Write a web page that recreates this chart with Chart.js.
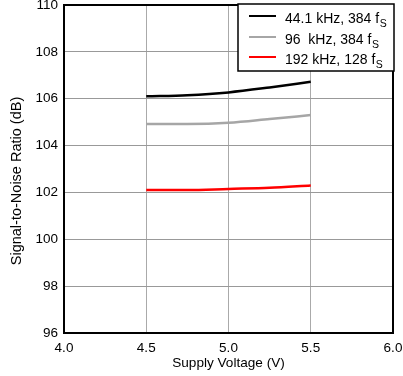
<!DOCTYPE html>
<html>
<head>
<meta charset="utf-8">
<script src="https://cdn.jsdelivr.net/npm/chart.js@4"></script>
<style>
  html, body { margin: 0; padding: 0; background: #fff; }
  #wrap { width: 403px; height: 376px; }
</style>
</head>
<body>
<div id="wrap"><canvas id="snr-chart" width="403" height="376"></canvas></div>
<script>
// supply voltage (V)
const voltage = [4.5, 4.75, 5.0, 5.25, 5.5];
// SNR (dB)
const snr441 = [106.1, 106.15, 106.27, 106.48, 106.72];
const snr96 = [104.92, 104.92, 104.97, 105.13, 105.3];
const snr192 = [102.1, 102.1, 102.15, 102.2, 102.3];
const seriesNames = ['44.1 kHz, 384 f', '96  kHz, 384 f', '192 kHz, 128 f'];
const seriesColors = ['#000000', '#a6a6a6', '#ff0000'];
const yTitle = 'Signal-to-Noise Ratio (dB)';

const font = 'Liberation Sans, Arial, sans-serif';

function pts(ys) {
    return voltage.map((v, i) => ({x: v, y: ys[i]}));
}

const frameAndLegend = {
    id: 'frameAndLegend',
    afterDatasetsDraw(chart) {
        const ctx = chart.ctx;
        const a = chart.chartArea;
        ctx.save();
        ctx.strokeStyle = '#000';
        ctx.lineWidth = 2;
        ctx.strokeRect(a.left, a.top, a.right - a.left, a.bottom - a.top);

        // y axis title (sits a bit below the centre in the original)
        ctx.save();
        ctx.translate(17, 181);
        ctx.rotate(-Math.PI / 2);
        ctx.fillStyle = '#000';
        ctx.font = '14.5px ' + font;
        ctx.textAlign = 'center';
        ctx.textBaseline = 'middle';
        ctx.fillText(yTitle, 0, 0);
        ctx.restore();

        // legend box
        const bx = 238, by = 4, bw = 156, bh = 67;
        ctx.fillStyle = '#fff';
        ctx.fillRect(bx, by, bw, bh);
        ctx.lineWidth = 1.5;
        ctx.strokeRect(bx, by, bw, bh);
        const rows = [16, 37, 57];
        for (let i = 0; i < seriesNames.length; i++) {
            const y = rows[i];
            ctx.strokeStyle = seriesColors[i];
            ctx.lineWidth = 2;
            ctx.beginPath();
            ctx.moveTo(249, y);
            ctx.lineTo(276, y);
            ctx.stroke();
            ctx.fillStyle = '#000';
            ctx.textBaseline = 'middle';
            ctx.font = '14px ' + font;
            ctx.fillText(seriesNames[i], 285, y + 3.5);
            const w = ctx.measureText(seriesNames[i]).width;
            ctx.font = '10.5px ' + font;
            ctx.fillText('S', 285 + w + 0.5, y + 8);
        }
        ctx.restore();
    }
};

const snrData = {
    datasets: [
        {label: seriesNames[0], data: pts(snr441), borderColor: seriesColors[0]},
        {label: seriesNames[1], data: pts(snr96), borderColor: seriesColors[1]},
        {label: seriesNames[2], data: pts(snr192), borderColor: seriesColors[2]}
    ].map(d => Object.assign(d, {borderWidth: 2.5, pointRadius: 0, cubicInterpolationMode: 'monotone', fill: false}))
};

const snrConfig = {
    type: 'line',
    data: snrData,
    options: {
        responsive: false,
        animation: false,
        layout: {padding: {top: 5, right: 10, left: 0, bottom: 0}},
        plugins: {
            legend: {display: false},
            tooltip: {enabled: false}
        },
        scales: {
            x: {
                type: 'linear',
                min: 4,
                max: 6,
                afterFit(s) {
                    s.height = 43;
                    s.paddingLeft = 0;
                    s.paddingRight = 0;
                },
                ticks: {
                    stepSize: 0.5,
                    color: '#000',
                    font: {family: font, size: 13.5},
                    padding: 7,
                    maxRotation: 0,
                    callback: v => v.toFixed(1)
                },
                grid: {color: '#aaaaaa', lineWidth: 1, drawTicks: false},
                border: {color: '#000', width: 2},
                title: {
                    display: true,
                    text: 'Supply Voltage (V)',
                    color: '#000',
                    font: {family: font, size: 13.6},
                    padding: {top: 0, bottom: 5}
                }
            },
            y: {
                min: 96,
                max: 110,
                afterFit(s) {
                    s.width = 64;
                    s.paddingTop = 0;
                    s.paddingBottom = 0;
                },
                ticks: {
                    stepSize: 2,
                    color: '#000',
                    font: {family: font, size: 13.5},
                    padding: 6
                },
                grid: {color: '#999999', lineWidth: 1, drawTicks: false},
                border: {color: '#000', width: 2},
                title: {display: false}
            }
        }
    },
    plugins: [frameAndLegend]
};

const snrChart = new Chart(document.getElementById('snr-chart'), snrConfig);
</script>
</body>
</html>
